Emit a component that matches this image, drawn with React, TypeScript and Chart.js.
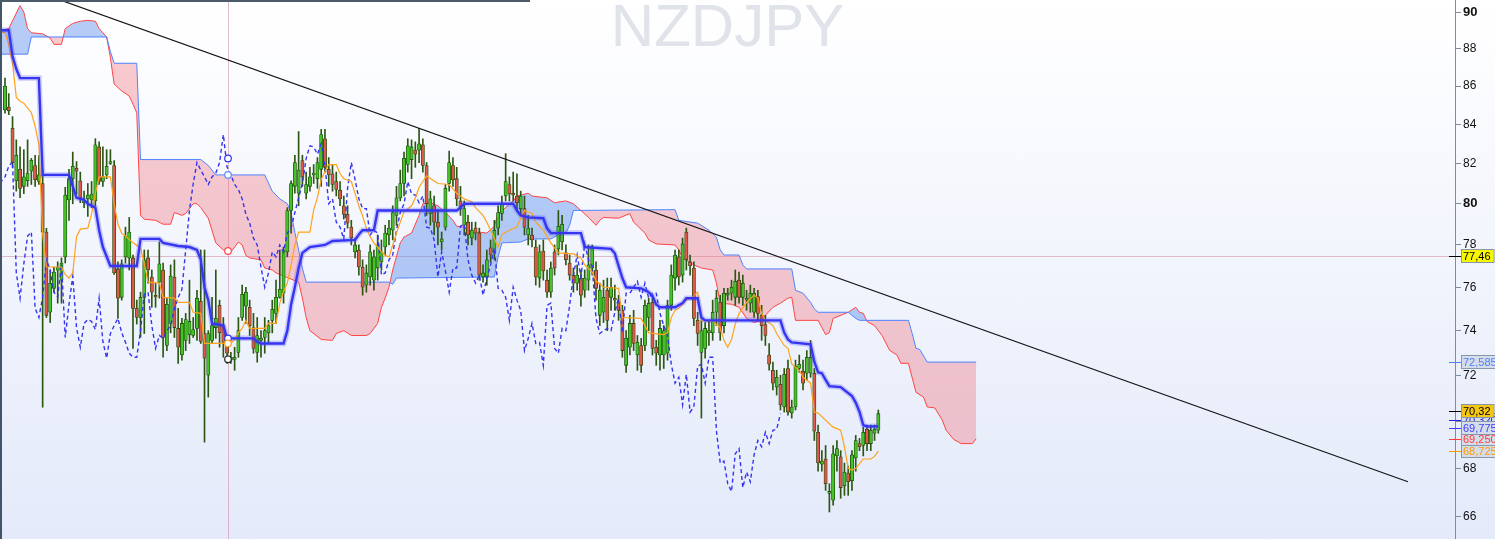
import { useEffect, useRef } from "react";
import { Chart, registerables } from "chart.js";
Chart.register(...registerables);

const W = 1495;
const H = 539;

// ---- candles (index 0..232) ----
const opens = [84.74,84.9,83.79,81.14,81.71,80.86,81.14,81.62,81.9,81.1,81.0,78.62,74.84,75.95,76.8,76.33,77.43,80.19,81.24,81.76,81.14,80.05,80.24,80.19,80.14,82.84,81.1,81.43,82.0,81.9,76.86,75.53,77.43,77.38,77.38,75.02,74.6,75.53,77.38,76.48,75.6,76.24,76.81,73.33,74.33,76.48,74.1,72.9,73.56,73.82,73.78,74.1,75.35,73.87,72.0,73.56,74.14,75.16,74.23,73.6,72.67,72.7,73.02,74.6,75.12,75.07,74.14,73.02,73.56,73.69,73.9,74.47,74.79,75.53,75.72,77.67,79.67,80.86,80.52,82.15,80.52,80.86,81.43,81.24,81.71,83.26,81.71,81.48,81.1,80.67,79.9,79.48,78.86,77.67,77.76,76.95,76.1,76.48,76.33,76.9,77.19,77.9,78.48,78.71,79.43,80.29,81.0,81.95,82.2,82.68,82.68,82.95,81.9,79.52,79.9,79.1,78.14,78.86,81.0,81.9,81.24,80.14,78.95,79.1,78.33,78.81,78.57,76.48,76.48,77.86,77.62,78.81,79.52,80.38,80.95,80.52,80.38,79.76,79.76,78.48,78.48,77.9,76.43,77.71,76.33,75.77,77.67,77.81,78.14,77.62,77.14,76.57,76.19,76.43,75.86,76.33,76.9,76.81,74.7,74.84,75.86,75.53,75.49,75.3,74.93,72.44,73.25,74.33,72.9,73.33,73.33,74.6,75.3,73.25,72.9,72.9,72.98,75.16,76.43,77.43,76.57,78.62,77.19,76.9,74.47,73.02,73.2,73.9,73.9,74.84,75.3,74.23,75.63,75.72,75.53,76.33,75.53,75.4,75.26,74.84,75.57,74.7,74.28,72.9,72.22,71.48,71.6,70.61,72.3,70.35,70.61,72.3,72.18,72.09,72.09,72.09,69.52,68.17,68.39,66.96,66.68,68.52,68.48,67.28,67.8,67.48,68.43,69.04,68.96,69.65,69.04,69.48,69.61];
const highs = [86.42,85.6,84.4,83.2,82.84,82.7,83.2,82.26,82.42,82.4,81.71,78.8,76.81,76.95,77.2,77.38,80.81,81.71,82.58,82.1,81.57,80.62,81.0,81.1,83.26,83.1,82.84,82.7,82.7,82.15,77.2,77.29,78.86,79.33,77.52,75.4,75.77,77.76,77.76,76.81,76.19,78.14,77.14,75.53,77.05,77.29,75.02,74.56,74.79,76.33,74.6,75.86,77.76,77.76,74.0,75.53,76.81,75.4,74.6,73.69,73.02,73.25,74.6,76.1,76.0,75.4,74.79,74.6,74.0,74.6,74.47,75.4,76.33,77.76,77.9,79.81,81.14,82.42,83.63,82.42,81.57,81.81,81.95,82.3,83.74,83.74,82.3,81.95,81.57,81.1,80.38,79.9,79.19,78.33,78.0,77.29,77.05,78.0,77.76,78.48,78.24,78.95,79.19,79.9,80.86,81.67,82.58,83.26,83.2,83.1,83.79,83.26,82.05,80.62,80.38,79.67,78.62,80.95,82.63,82.3,81.81,80.86,80.14,79.43,79.1,79.1,78.81,77.05,77.76,78.24,79.19,79.9,80.38,82.5,81.33,81.57,81.48,80.62,80.38,79.43,78.81,78.24,78.0,78.24,76.81,77.19,78.0,79.67,79.43,78.0,77.52,76.9,77.05,76.81,76.81,78.0,78.0,77.19,76.19,76.33,76.43,76.43,76.1,75.63,75.16,74.0,74.7,74.93,73.78,73.65,75.4,75.49,75.63,73.56,74.47,74.23,75.4,77.05,77.76,77.76,78.33,78.81,77.52,77.19,74.84,74.47,74.37,74.47,75.4,75.86,75.63,75.95,75.95,76.33,76.81,76.71,76.57,75.86,76.1,75.95,75.86,75.16,74.7,73.42,72.58,72.22,72.0,72.3,72.67,70.91,72.67,72.9,72.67,73.1,73.56,72.3,69.83,68.74,68.96,67.36,68.96,69.17,68.74,68.22,68.09,68.74,69.39,69.26,69.74,69.83,69.83,69.83,70.48];
const lows = [84.58,84.5,81.8,80.62,80.3,80.5,80.86,80.95,80.86,80.95,70.6,74.6,74.37,75.77,75.26,75.26,77.14,79.19,80.0,80.48,80.05,79.81,79.38,79.81,79.9,80.95,80.86,81.24,81.95,76.6,74.56,75.4,77.14,76.81,73.2,74.3,73.7,73.87,76.19,75.07,75.07,75.49,72.8,73.1,73.9,73.69,72.53,72.67,73.1,73.42,73.69,73.56,73.42,69.1,71.04,73.42,73.65,73.25,72.8,72.53,72.53,72.22,72.8,74.47,74.33,73.78,72.98,72.58,72.8,72.98,73.42,73.9,74.33,75.49,75.26,77.43,78.57,80.52,79.9,80.86,80.24,80.62,81.0,80.76,80.86,81.57,80.86,80.62,80.38,79.9,79.25,78.81,78.0,77.38,76.57,75.63,75.77,76.1,75.86,76.33,76.81,77.52,78.0,78.24,78.95,80.14,80.38,81.57,81.24,81.81,82.05,81.57,79.43,78.95,78.48,78.0,77.76,78.71,80.62,80.86,79.9,79.43,78.48,78.0,78.0,78.24,76.33,76.24,76.1,77.19,77.29,78.48,79.19,80.14,80.14,80.14,79.67,79.43,78.48,78.0,77.9,76.1,76.0,76.33,75.53,75.53,76.57,77.52,77.76,77.05,76.33,75.77,75.86,75.12,75.53,75.86,76.57,75.4,74.23,74.37,74.0,74.93,74.93,74.47,72.8,72.13,72.9,73.1,72.22,72.13,73.1,74.0,72.9,72.44,72.22,72.3,72.67,74.93,75.86,76.1,76.24,76.81,76.57,74.23,73.33,70.13,72.76,73.33,73.56,74.23,73.56,73.9,75.4,75.4,75.16,75.26,75.16,74.93,74.84,74.6,74.47,73.56,73.33,72.22,71.35,71.13,70.48,70.39,70.26,70.13,70.48,72.13,71.35,71.78,71.91,69.17,67.88,67.88,67.08,66.2,66.48,67.88,66.76,66.88,66.88,67.08,67.88,68.74,68.52,68.74,68.74,69.17,69.48];
const closes = [86.0,84.7,82.05,82.42,80.76,81.33,81.52,82.16,81.19,81.43,78.62,74.7,76.19,76.71,76.95,77.14,80.43,81.24,81.86,81.62,80.29,80.14,80.43,80.48,82.95,81.1,81.33,81.86,82.1,76.67,75.49,77.1,78.43,78.62,75.02,74.6,75.53,77.29,76.81,75.77,75.55,77.1,73.69,75.21,76.52,74.14,73.25,74.33,74.51,74.42,74.05,75.49,73.51,72.76,73.87,74.23,74.56,73.91,73.47,72.98,72.8,72.8,74.0,75.67,75.77,74.23,73.2,73.78,73.65,74.0,74.23,74.98,75.53,75.9,77.76,79.67,81.0,82.05,81.67,81.33,80.95,81.33,81.52,82.05,83.47,81.81,81.43,80.95,80.71,80.24,79.48,79.05,78.33,78.0,76.95,76.0,76.67,77.67,77.43,78.0,77.67,78.57,78.81,79.57,80.29,81.0,82.26,82.9,82.84,82.47,83.0,81.9,80.0,80.24,79.1,78.86,78.29,80.76,82.05,81.19,80.24,79.76,79.76,78.48,78.71,78.57,76.57,76.67,77.29,77.52,78.71,79.57,80.0,81.1,80.48,80.43,80.05,80.38,78.86,78.81,78.24,76.48,77.67,76.76,75.77,76.9,76.9,78.9,79.0,77.29,76.57,76.19,76.57,75.63,76.43,77.05,77.86,75.95,75.86,75.53,74.47,76.0,75.4,74.93,73.1,73.65,74.33,73.42,73.47,72.44,75.16,75.26,73.2,72.98,74.1,74.0,75.16,76.57,77.52,76.48,78.05,77.29,77.0,74.56,73.87,74.0,74.1,74.0,74.84,75.49,73.9,75.72,75.72,76.0,76.28,75.53,76.19,75.49,75.72,75.72,74.79,74.23,73.78,72.49,71.65,71.91,70.7,72.04,70.39,70.61,72.4,72.49,71.65,72.8,72.8,69.57,68.22,68.3,67.36,67.04,68.61,68.83,67.2,67.84,67.44,68.57,69.17,68.91,69.52,69.04,69.61,69.65,70.32];

// ---- Ichimoku lines: [candle index, price] ----
const tenkan = [[-1,88.9],[0,88.86],[1,88.2],[2,87.2],[3,85.4],[4,85.2],[5,85.1],[7,84.6],[8,83.9],[9,82.95],[10,78.5],[11,76.95],[15,76.95],[16,76.6],[17,76.43],[18,76.67],[19,78.4],[20,78.76],[22,78.81],[23,79.5],[24,80.5],[25,81.33],[28,81.33],[29,80.0],[30,79.0],[31,78.57],[32,78.43],[34,78.1],[36,77.86],[37,77.1],[38,76.24],[41,76.19],[42,75.53],[45,75.49],[46,75.3],[49,75.3],[50,74.84],[52,74.79],[53,73.42],[58,73.42],[59,73.56],[60,73.42],[61,73.6],[62,73.91],[63,74.1],[64,74.47],[65,74.1],[69,74.1],[70,74.33],[72,74.33],[73,75.26],[74,75.8],[75,76.19],[76,77.05],[77,78.0],[78,78.62],[81,78.62],[82,79.7],[83,80.3],[84,81.2],[85,81.6],[86,81.95],[88,81.95],[89,81.5],[90,81.24],[92,81.1],[93,80.5],[94,79.9],[95,79.4],[96,78.8],[97,78.4],[98,78.1],[100,77.67],[101,77.5],[102,77.43],[103,78.0],[104,78.57],[105,79.1],[106,79.6],[108,79.9],[109,80.3],[110,80.8],[111,81.1],[112,81.38],[115,81.0],[118,80.95],[120,80.52],[122,80.24],[124,80.1],[125,79.81],[127,79.43],[128,79.1],[129,78.71],[131,77.9],[132,78.5],[134,78.71],[136,78.86],[137,79.3],[138,79.67],[140,79.52],[141,79.1],[143,78.71],[145,78.1],[147,77.62],[151,77.57],[153,77.38],[154,77.05],[156,76.71],[157,76.3],[159,76.0],[163,75.95],[164,74.6],[169,74.56],[171,73.9],[175,73.82],[176,73.91],[177,74.6],[178,74.93],[179,75.02],[181,75.4],[183,75.58],[184,75.77],[185,74.47],[188,74.42],[190,74.14],[191,73.56],[192,73.25],[193,73.6],[194,74.3],[195,74.79],[197,75.3],[199,75.63],[200,75.5],[201,74.79],[202,74.47],[204,74.23],[205,73.87],[207,73.33],[208,73.2],[209,72.5],[211,72.22],[212,71.91],[214,71.65],[215,70.39],[216,70.35],[218,70.04],[220,69.74],[222,69.61],[223,68.9],[224,68.0],[225,67.92],[226,68.0],[228,68.39],[230,68.39],[231,68.5],[232,68.725]];
const kijun = [[-1,89.0],[1,89.0],[2,87.6],[3,86.9],[4,86.42],[9,86.42],[10,81.43],[17,81.43],[19,80.29],[21,80.19],[22,80.0],[24,79.81],[25,78.71],[26,77.9],[28,77.0],[35,77.0],[36,78.29],[41,78.29],[42,78.1],[46,77.95],[49,77.9],[51,77.76],[52,77.3],[53,76.0],[54,75.4],[55,74.33],[58,74.23],[59,73.65],[66,73.65],[67,73.5],[68,73.42],[74,73.42],[75,74.0],[76,75.2],[77,76.0],[78,76.9],[79,77.62],[81,77.9],[85,78.0],[87,78.19],[93,78.24],[94,78.5],[95,78.71],[98,78.71],[99,79.67],[120,79.67],[121,79.81],[122,80.0],[135,80.0],[136,79.67],[137,79.43],[139,79.33],[143,79.29],[144,78.8],[145,78.57],[153,78.57],[154,77.9],[161,77.81],[162,77.6],[163,77.0],[164,76.43],[165,76.0],[169,75.95],[171,75.77],[172,75.6],[173,75.2],[174,75.07],[178,75.07],[180,75.26],[181,75.49],[184,75.49],[185,74.6],[186,74.47],[206,74.47],[207,73.91],[208,73.6],[209,73.47],[214,73.38],[215,72.6],[216,72.13],[217,72.09],[218,71.8],[219,71.52],[222,71.48],[225,71.09],[226,70.8],[227,70.4],[228,69.83],[229,69.77],[232,69.775]];
const senkouA = [[-1.3,88.97],[1,89.09],[3,89.94],[4,90.35],[5,90.0],[6,89.09],[7,88.86],[10,88.8],[12,88.57],[13,88.23],[15,88.23],[16,89.09],[18,89.37],[20,89.49],[22,89.54],[24,89.49],[25,89.09],[27,88.63],[28,87.5],[29,86.1],[31,85.74],[33,85.47],[34,85.05],[35,84.6],[36,79.43],[37,79.24],[40,79.19],[42,79.0],[44,79.0],[45,79.57],[47,79.43],[48,79.52],[50,80.0],[51,80.0],[52,79.81],[54,79.29],[56,78.1],[58,77.76],[60,77.67],[61,77.9],[62,78.14],[63,78.0],[64,77.5],[65,77.38],[68,77.29],[69,76.9],[71,76.81],[72,76.67],[76,76.38],[78,76.24],[79,75.5],[80,74.6],[81,74.0],[84,73.6],[87,73.56],[88,73.87],[90,74.0],[92,73.78],[96,73.78],[97,73.87],[99,74.33],[100,75.07],[101,75.5],[102,76.0],[103,76.81],[105,78.1],[106,78.38],[108,78.57],[110,79.43],[111,80.0],[113,80.05],[115,79.9],[117,79.57],[119,79.19],[120,78.9],[122,78.86],[124,78.57],[126,78.62],[128,78.57],[130,78.9],[131,79.52],[133,79.81],[135,80.14],[136,80.38],[139,80.52],[140,80.38],[144,80.29],[146,80.05],[149,80.14],[151,80.0],[153,79.67],[155,79.33],[157,78.95],[158,79.19],[159,79.33],[163,79.29],[166,79.52],[167,79.1],[170,78.57],[171,78.24],[173,78.05],[178,78.0],[179,77.76],[180,77.38],[183,77.05],[185,76.9],[188,76.81],[189,76.19],[190,75.26],[193,75.21],[195,75.07],[197,74.56],[199,74.37],[201,74.47],[202,74.7],[204,75.07],[206,75.26],[208,75.49],[209,75.53],[210,74.47],[216,74.47],[217,74.14],[218,73.82],[219,73.91],[220,74.56],[224,74.84],[226,75.07],[227,74.84],[228,74.79],[229,74.42],[231,74.23],[233,73.78],[235,73.11],[237,72.89],[238,72.53],[240,72.53],[242,71.25],[244,71.04],[245,70.61],[247,70.57],[249,70.04],[250,69.61],[252,69.22],[254,69.04],[257,69.04],[258,69.25]];
const senkouB = [[-1.3,87.7],[6,87.7],[7,88.63],[27,88.63],[28,87.84],[29,87.21],[35,87.21],[36,82.2],[52,82.2],[54,81.9],[56,81.43],[69,81.43],[71,80.62],[73,80.24],[75,80.0],[76,79.57],[77,78.6],[78,77.76],[79,76.9],[80,76.24],[102,76.24],[103,76.14],[104,76.43],[130,76.48],[131,77.43],[132,78.1],[137,78.14],[139,78.29],[145,78.29],[147,78.48],[149,78.57],[150,78.95],[151,79.67],[178,79.71],[179,79.19],[184,79.05],[187,78.71],[189,78.38],[190,77.76],[191,77.52],[195,77.52],[196,77.05],[197,76.86],[209,76.86],[210,75.86],[212,75.72],[214,75.3],[215,75.0],[216,74.84],[224,74.84],[226,74.56],[227,74.47],[240,74.47],[241,73.87],[242,73.2],[243,73.15],[245,72.585],[258,72.585]];
const chikouShift = 26;

// trend line end points [index, price]
const trendLine = [[14.6,90.67],[372.7,67.44]];

// crosshair
const crossX = 59.24;
const crossPrice = 77.46;
const crossValues = [82.26, 81.43, 77.71, 73.65, 73.42, 72.71];
const crossColors = ["#3333ee", "#5b8cff", "#ff4a4a", "#3333ee", "#ffa31a", "#222222"];

// y-axis ticks
const yTicks = [66, 68, 70, 72, 74, 76, 78, 80, 82, 84, 86, 88, 90];
const boldTicks = [80, 90];

// right-hand price tags
const tagValues = [68.725, 69.25, 70.32, 69.775, 72.585, 70.32, 77.46];
const tagTexts = ["68,725", "69,250", "70,320", "69,775", "72,585", "70,32", "77,46"];
const tagFg = ["#ff9a00", "#ff3a3a", "#2525d8", "#3c3cff", "#4d7fff", "#000000", "#000000"];
const tagBg = ["#d6ddea", "#d6ddea", "#d6ddea", "#d6ddea", "#d6ddea", "#f3c614", "#f7f700"];
const tagShift = [0, 0, 6, 2, 0, -3, 0];

export default function App() {
  const ref = useRef<HTMLCanvasElement | null>(null);
  useEffect(() => {
    document.body.style.margin = "0";
    const canvas = ref.current;
    if (!canvas) return;
    const pts = (arr: number[][]) => arr.map(([x, y]) => ({ x, y }));
    const wicks: any[] = [];
    const ups: any[] = [];
    const downs: any[] = [];
    closes.forEach((c, i) => {
      wicks.push({ x: i, y: [lows[i], highs[i]] });
      if (c >= opens[i]) ups.push({ x: i, y: [opens[i], c] });
      else downs.push({ x: i, y: [c, opens[i]] });
    });
    const chikou = closes.map((c, i) => ({ x: i - chikouShift, y: c }));

    const bg = {
      id: "bgText",
      beforeDatasetsDraw(chart: any) {
        const { ctx, chartArea, scales } = chart;
        ctx.save();
        ctx.font = '60px "Liberation Sans", Arial, sans-serif';
        ctx.fillStyle = "#e1e3ea";
        ctx.textAlign = "center";
        ctx.textBaseline = "alphabetic";
        ctx.fillText("NZDJPY", (chartArea.left + chartArea.right) / 2, 46);
        const px = scales.x.getPixelForValue(crossX);
        const py = scales.y.getPixelForValue(crossPrice);
        ctx.strokeStyle = "rgba(200,130,150,0.5)";
        ctx.lineWidth = 1;
        ctx.beginPath();
        ctx.moveTo(Math.round(px) + 0.5, chartArea.top);
        ctx.lineTo(Math.round(px) + 0.5, chartArea.bottom);
        ctx.moveTo(chartArea.left, Math.round(py) + 0.5);
        ctx.lineTo(chartArea.right, Math.round(py) + 0.5);
        ctx.stroke();
        ctx.restore();
      },
    };
    const tags = {
      id: "tags",
      afterDraw(chart: any) {
        const { ctx, scales } = chart;
        const y = scales.y;
        const x0 = y.left;
        ctx.save();
        ctx.font = '11px "Liberation Sans", Arial, sans-serif';
        ctx.textBaseline = "middle";
        ctx.textAlign = "left";
        tagValues.forEach((v, k) => {
          const py = Math.round(y.getPixelForValue(v) + tagShift[k]);
          ctx.strokeStyle = tagFg[k];
          ctx.lineWidth = 1;
          ctx.beginPath();
          ctx.moveTo(x0 - 6, py + 0.5);
          ctx.lineTo(x0 + 6, py + 0.5);
          ctx.stroke();
          const w = ctx.measureText(tagTexts[k]).width + 5;
          ctx.fillStyle = tagBg[k];
          ctx.fillRect(x0 + 6, py - 7, w, 14);
          ctx.strokeStyle = "#8796a8";
          ctx.strokeRect(x0 + 6.5, py - 6.5, w, 13);
          ctx.fillStyle = tagFg[k];
          ctx.fillText(tagTexts[k], x0 + 8, py + 0.5);
        });
        ctx.restore();
      },
    };

    const chart = new Chart(canvas, {
      type: "bar",
      data: {
        datasets: [
          {
            type: "line",
            data: pts(senkouA),
            borderColor: "#ff4444",
            borderWidth: 1,
            pointRadius: 0,
            tension: 0,
            fill: { target: "+1", above: "rgba(95,145,238,0.45)", below: "rgba(240,110,122,0.36)" },
            order: 20,
          },
          {
            type: "line",
            data: pts(senkouB),
            borderColor: "#4f82ff",
            borderWidth: 1,
            pointRadius: 0,
            tension: 0,
            fill: false,
            order: 19,
          },
          {
            type: "bar",
            data: wicks,
            backgroundColor: "#2c5712",
            grouped: false,
            maxBarThickness: 1,
            barPercentage: 1,
            categoryPercentage: 1,
            order: 15,
          },
          {
            type: "bar",
            data: ups,
            backgroundColor: "#45c22a",
            borderColor: "#1f4f0c",
            borderWidth: 0.8,
            borderSkipped: false,
            grouped: false,
            maxBarThickness: 3.3,
            barPercentage: 1,
            categoryPercentage: 1,
            minBarLength: 1.5,
            order: 14,
          },
          {
            type: "bar",
            data: downs,
            backgroundColor: "#e0574c",
            borderColor: "#2f4a0c",
            borderWidth: 0.8,
            borderSkipped: false,
            grouped: false,
            maxBarThickness: 3.3,
            barPercentage: 1,
            categoryPercentage: 1,
            minBarLength: 1.5,
            order: 14,
          },
          {
            type: "line",
            data: chikou,
            borderColor: "#3434f0",
            borderWidth: 1.4,
            borderDash: [4, 3],
            pointRadius: 0,
            tension: 0,
            fill: false,
            order: 10,
          },
          {
            type: "line",
            data: pts(tenkan),
            borderColor: "#ffa31a",
            borderWidth: 1.2,
            pointRadius: 0,
            tension: 0,
            fill: false,
            order: 8,
          },
          {
            type: "line",
            data: pts(kijun),
            borderColor: "rgba(60,60,255,0.25)",
            borderWidth: 5.5,
            pointRadius: 0,
            tension: 0,
            fill: false,
            order: 7,
          },
          {
            type: "line",
            data: pts(kijun),
            borderColor: "#3535f2",
            borderWidth: 2.4,
            pointRadius: 0,
            tension: 0,
            fill: false,
            order: 6,
          },
          {
            type: "line",
            data: pts(trendLine),
            borderColor: "#151515",
            borderWidth: 1.2,
            pointRadius: 0,
            fill: false,
            order: 5,
          },
          {
            type: "line",
            data: crossValues.map((v) => ({ x: crossX, y: v })),
            showLine: false,
            pointRadius: 3.3,
            pointBorderWidth: 1.2,
            pointBackgroundColor: "#ffffff",
            pointBorderColor: crossColors,
            order: 1,
          },
        ],
      },
      options: {
        responsive: false,
        animation: false,
        devicePixelRatio: 1,
        events: [],
        layout: { padding: 0, autoPadding: false },
        plugins: { legend: { display: false }, tooltip: { enabled: false } },
        scales: {
          x: {
            type: "linear",
            display: false,
            min: -1.33,
            max: 385.2,
            offset: false,
            bounds: "data",
            grid: { display: false },
          },
          y: {
            type: "logarithmic",
            position: "right",
            min: 65.11,
            max: 90.666,
            bounds: "data",
            afterFit: (s: any) => {
              s.width = 40;
              s.paddingTop = 0;
              s.paddingBottom = 0;
            },
            afterBuildTicks: (s: any) => {
              s.ticks = yTicks.map((v) => ({ value: v }));
            },
            ticks: {
              autoSkip: false,
              color: "#111111",
              padding: 2,
              callback: (v: any) => String(v),
              font: (c: any) =>
                c.tick && boldTicks.includes(c.tick.value)
                  ? { family: '"Liberation Sans", Arial, sans-serif', size: 13, weight: "bold" }
                  : { family: '"Liberation Sans", Arial, sans-serif', size: 12 },
            },
            grid: { drawOnChartArea: false, drawTicks: true, tickLength: 6, color: "#7d8c9e" },
            border: { display: true, color: "#7d8c9e" },
          },
        },
      },
      plugins: [bg, tags],
    } as any);
    return () => chart.destroy();
  }, []);

  return (
    <div
      style={{
        position: "fixed",
        left: 0,
        top: 0,
        width: W,
        height: H,
        background: "linear-gradient(#ffffff, #e4eafa)",
        overflow: "hidden",
      }}
    >
      <canvas ref={ref} width={W} height={H} style={{ display: "block", width: W, height: H }} />
      <div style={{ position: "absolute", left: 0, top: 0, width: 2, height: H, background: "#42536a" }} />
      <div style={{ position: "absolute", left: 0, top: 0, width: 530, height: 2, background: "#4b5b6c" }} />
    </div>
  );
}
